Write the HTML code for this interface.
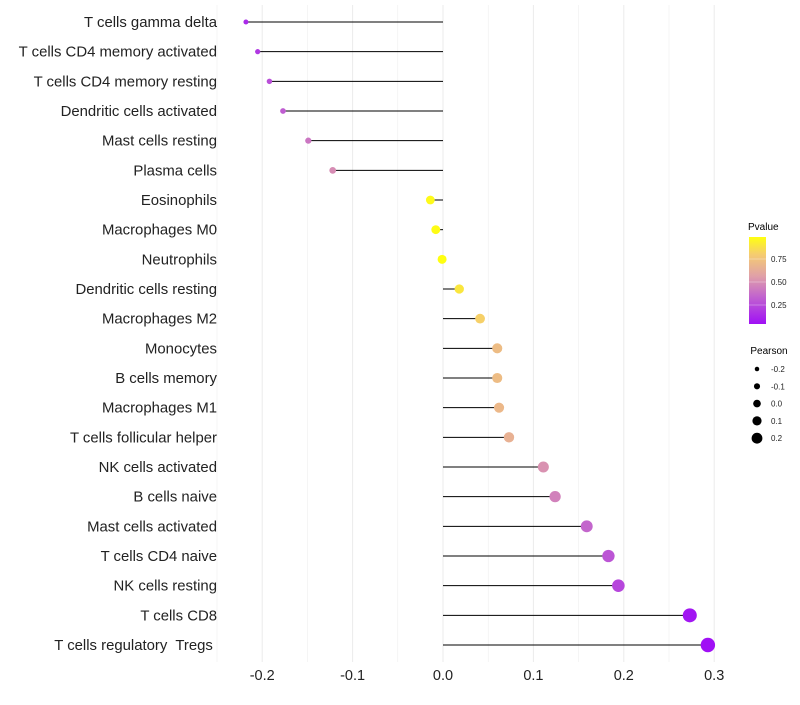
<!DOCTYPE html>
<html><head><meta charset="utf-8"><style>
body{margin:0;background:#fff;font-family:"Liberation Sans",sans-serif}
svg text{font-family:"Liberation Sans",sans-serif;white-space:pre}
</style></head><body>
<svg id="chart" width="800" height="700">
<defs><linearGradient id="pg" x1="0" y1="1" x2="0" y2="0">
<stop offset="0" stop-color="#A010F5"/><stop offset="0.3" stop-color="#C060D0"/><stop offset="0.55" stop-color="#E0A0A8"/><stop offset="0.8" stop-color="#F5CC70"/><stop offset="1" stop-color="#FFFF10"/></linearGradient></defs>
<g id="grid"></g>
<g id="marks"></g>
<g id="legend">
<text x="748" y="230" font-size="10">Pvalue</text>
<rect x="749" y="237" width="17" height="87" fill="url(#pg)"/>
<text x="769" y="354" font-size="10" text-anchor="middle">Pearson</text>
</g>
</svg>
<script>
const categories=["T cells gamma delta","T cells CD4 memory activated","T cells CD4 memory resting","Dendritic cells activated","Mast cells resting","Plasma cells","Eosinophils","Macrophages M0","Neutrophils","Dendritic cells resting","Macrophages M2","Monocytes","B cells memory","Macrophages M1","T cells follicular helper","NK cells activated","B cells naive","Mast cells activated","T cells CD4 naive","NK cells resting","T cells CD8","T cells regulatory  Tregs "];
const pearson=[-0.218,-0.205,-0.192,-0.177,-0.149,-0.122,-0.014,-0.008,-0.001,0.018,0.041,0.060,0.060,0.062,0.073,0.111,0.124,0.159,0.183,0.194,0.273,0.293];
const pvalue=[0.15,0.2,0.28,0.33,0.42,0.5,0.97,0.98,0.99,0.9,0.82,0.72,0.72,0.7,0.66,0.52,0.46,0.36,0.3,0.25,0.08,0.06];
const xTicks=[-0.2,-0.1,0.0,0.1,0.2,0.3];
const xTickLabels=["-0.2","-0.1","0.0","0.1","0.2","0.3"];
const pTicks=[0.25,0.5,0.75];
const pTickLabels=["0.25","0.50","0.75"];
const sizeBreaks=[-0.2,-0.1,0.0,0.1,0.2];
const sizeLabels=["-0.2","-0.1","0.0","0.1","0.2"];
const NS="http://www.w3.org/2000/svg";
const x=v=>443+v*904;
const y=i=>22+i*(623/(categories.length-1));
const r=v=>4.5+v*9.2;
const py=v=>305-(v-0.25)*92;
function lerp(a,b,t){return a+(b-a)*t;}
const stops=[[0,[160,16,245]],[0.3,[192,96,208]],[0.55,[224,160,168]],[0.8,[245,204,112]],[1,[255,255,16]]];
function col(p){const t=Math.max(0,Math.min(1,(p-0.06)/(0.99-0.06)));for(let k=1;k<stops.length;k++){if(t<=stops[k][0]){const a=stops[k-1],b=stops[k];const u=(t-a[0])/(b[0]-a[0]);return `rgb(${a[1].map((c,j)=>Math.round(lerp(c,b[1][j],u))).join(',')})`;}}return 'rgb(255,255,16)';}
function mk(tag,attrs,parent){const e=document.createElementNS(NS,tag);for(const k in attrs)e.setAttribute(k,attrs[k]);parent.appendChild(e);return e;}
const grid=document.getElementById('grid'),marks=document.getElementById('marks'),legend=document.getElementById('legend');
for(let v=-0.25;v<=0.301;v+=0.05){const l=mk('line',{x1:x(v),x2:x(v),y1:5,y2:662,stroke:'#ebebeb','stroke-width':Math.abs(Math.round(v*20))%2===0?1:0.5},grid);

}
xTicks.forEach((v,i)=>{const t=mk('text',{x:x(v),y:680,'font-size':14.5,'text-anchor':'middle',fill:'#222'},grid);t.textContent=xTickLabels[i];

});
categories.forEach((c,i)=>{
const t=mk('text',{x:217,y:y(i)+5,'font-size':14.9,'text-anchor':'end',fill:'#222'},marks);t.textContent=c;


const l=mk('line',{x1:x(0),x2:x(pearson[i]),y1:y(i),y2:y(i),stroke:'#000','stroke-width':1},marks);


const d=mk('circle',{cx:x(pearson[i]),cy:y(i),r:r(pearson[i]),fill:col(pvalue[i])},marks);

});
pTicks.forEach((v,i)=>{const t=mk('text',{x:771,y:py(v)+3,'font-size':8,fill:'#222'},legend);t.textContent=pTickLabels[i];


const l=mk('line',{x1:749,x2:766,y1:py(v),y2:py(v),stroke:'#fff','stroke-width':0.6,opacity:0.6},legend);

});
sizeBreaks.forEach((v,i)=>{const yy=369+i*17.3;const d=mk('circle',{cx:757,cy:yy,r:r(v)*0.85,fill:'#000'},legend);


const t=mk('text',{x:771,y:yy+3,'font-size':8,fill:'#222'},legend);t.textContent=sizeLabels[i];

});
</script>
</body></html>
